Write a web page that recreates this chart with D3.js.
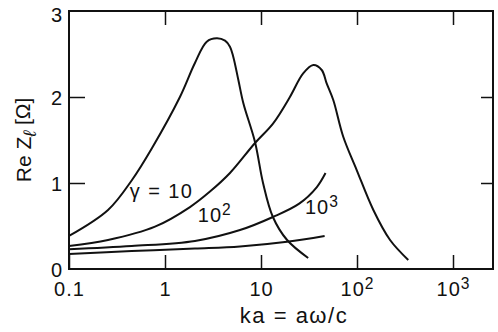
<!DOCTYPE html>
<html>
<head>
<meta charset="utf-8">
<script src="https://cdn.jsdelivr.net/npm/d3@7"></script>
<style>
  body { margin: 0; background: #fff; }
  text { font-family: "Liberation Sans", Arial, Helvetica, sans-serif; fill: #111; }
</style>
</head>
<body>
<div id="chart"></div>
<script>
// ka values and Re Z for each gamma
let ka10 = [0.1, 0.255, 0.453, 0.733, 1.43, 2.05, 2.72, 3.46, 4.22, 4.75, 5.14, 5.81, 6.55, 8.66, 10.5, 13.3, 18.7, 31];
let re10 = [0.384, 0.686, 1.035, 1.407, 2.0, 2.395, 2.643, 2.683, 2.655, 2.585, 2.469, 2.198, 1.927, 1.477, 1.0, 0.605, 0.337, 0.128];

let ka100 = [0.1, 0.255, 0.787, 1.82, 2.94, 4.75, 8.66, 13.4, 20, 27.5, 35.1, 42.9, 48.3, 56.6, 71.9, 99.3, 148, 221, 342];
let re100 = [0.267, 0.337, 0.492, 0.72, 0.9, 1.116, 1.465, 1.694, 2.0, 2.275, 2.372, 2.314, 2.159, 1.965, 1.538, 1.151, 0.686, 0.337, 0.105];

let ka1000 = [0.1, 0.45, 2.05, 6.04, 13.3, 25, 38, 47];
let re1000 = [0.229, 0.267, 0.326, 0.453, 0.605, 0.76, 0.95, 1.116];

let ka10000 = [0.1, 0.45, 2.05, 6.04, 18.7, 46];
let re10000 = [0.174, 0.209, 0.238, 0.262, 0.317, 0.384];

let xTicks = [1, 10, 100, 1000];
let yTicks = [0, 1, 2, 3];

let width = 498, height = 332;
let margin = { left: 69, right: 5, top: 11, bottom: 63 };

let svg = d3.select("#chart").append("svg")
  .attr("width", width)
  .attr("height", height);

let x = d3.scaleLog().domain([0.1, 2610]).range([margin.left, width - margin.right]);
let y = d3.scaleLinear().domain([0, 3]).range([height - margin.bottom, margin.top]);

function powerLabel(t, base, exp) {
  t.append("tspan").text(base);
  t.append("tspan").attr("dy", "-0.45em").attr("font-size", "0.78em").text(exp);
}

// bottom axis
let gx = svg.append("g")
  .attr("transform", "translate(0," + y(0) + ")")
  .call(d3.axisBottom(x).tickValues([0.1].concat(xTicks)).tickSizeInner(-14).tickSizeOuter(0).tickPadding(13));
gx.selectAll("text")
  .attr("font-size", 20)
  .attr("letter-spacing", 1)
  .each(function (d) {
    let t = d3.select(this).text("");
    if (d < 1) t.text("0.1");
    else if (d < 100) t.text(d);
    else powerLabel(t, "10", Math.round(Math.log10(d)));
  });

// top axis
svg.append("g")
  .attr("transform", "translate(0," + y(3) + ")")
  .call(d3.axisTop(x).tickValues(xTicks).tickSizeInner(-14).tickSizeOuter(0).tickFormat(""));

// left axis
let gy = svg.append("g")
  .attr("transform", "translate(" + x(0.1) + ",0)")
  .call(d3.axisLeft(y).tickValues(yTicks).tickSizeInner(-16).tickSizeOuter(0).tickPadding(7).tickFormat(d3.format("d")));
gy.selectAll("text")
  .attr("font-size", 20)
  .attr("dy", d => d == 3 ? "0.5em" : "0.36em");
gy.selectAll(".tick").filter(d => d == 0 || d == 3).select("line").remove();

// right axis
svg.append("g")
  .attr("transform", "translate(" + x(2610) + ",0)")
  .call(d3.axisRight(y).tickValues([1, 2]).tickSizeInner(-12).tickSizeOuter(0).tickFormat(""));

svg.selectAll(".domain").remove();
svg.selectAll(".tick line").attr("stroke", "#111").attr("stroke-width", 1.5);

// frame
svg.append("rect")
  .attr("x", x(0.1))
  .attr("y", y(3))
  .attr("width", x(2610) - x(0.1))
  .attr("height", y(0) - y(3))
  .attr("fill", "none")
  .attr("stroke", "#111")
  .attr("stroke-width", 2);

let line = d3.line()
  .x(d => x(d[0]))
  .y(d => y(d[1]))
  .curve(d3.curveCatmullRom.alpha(0.5));

let series = [[ka10, re10], [ka100, re100], [ka1000, re1000], [ka10000, re10000]];
series.forEach(function (s) {
  svg.append("path")
    .datum(d3.zip(s[0], s[1]))
    .attr("d", line)
    .attr("fill", "none")
    .attr("stroke", "#111")
    .attr("stroke-width", 2);
});

// curve labels
svg.append("text")
  .attr("x", x(0.43)).attr("y", y(0.825))
  .attr("font-size", 20)
  .attr("textLength", 62)
  .text("\u03b3 = 10");

powerLabel(svg.append("text").attr("x", x(2.2)).attr("y", y(0.55)).attr("font-size", 20).attr("letter-spacing", 1), "10", "2");
powerLabel(svg.append("text").attr("x", x(28.7)).attr("y", y(0.64)).attr("font-size", 20).attr("letter-spacing", 1), "10", "3");

// axis titles
svg.append("text")
  .attr("x", 294).attr("y", 323)
  .attr("text-anchor", "middle")
  .attr("font-size", 22)
  .attr("letter-spacing", 1.5)
  .text("ka = a\u03c9/c");

let yt = svg.append("text")
  .attr("transform", "translate(31," + ((y(0) + y(3)) / 2) + ") rotate(-90)")
  .attr("text-anchor", "middle")
  .attr("font-size", 21);
yt.append("tspan").text("Re Z");
yt.append("tspan").attr("dy", "0.3em").attr("font-size", "0.85em").attr("font-style", "italic").text("\u2113");
yt.append("tspan").attr("dy", "-0.3em").text(" [\u03a9]");
</script>
</body>
</html>
